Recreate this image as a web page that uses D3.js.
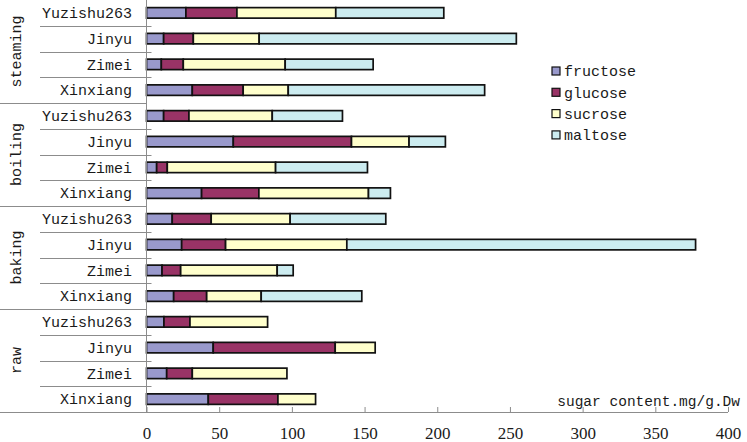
<!DOCTYPE html>
<html><head><meta charset="utf-8">
<script src="https://cdn.jsdelivr.net/npm/d3@7/dist/d3.min.js"></script>
<style>
html,body{margin:0;padding:0;background:#fff;}
svg{display:block;}
</style></head>
<body>
<svg id="chart" width="747" height="442"></svg>
<script>
// ---- data (rows listed top to bottom) ----
const methods = ["steaming", "boiling", "baking", "raw"];
const varieties = ["Yuzishu263", "Jinyu", "Zimei", "Xinxiang"];
const sugars = ["fructose", "glucose", "sucrose", "maltose"];
const fructose = [27.1, 11.8, 10.2, 31.5, 11.8, 59.7, 7.0, 37.9, 17.7, 24.2, 10.7, 18.7, 12.0, 45.9, 13.9, 42.5];
const glucose  = [35.1, 20.4, 15.1, 35.0, 17.4, 81.3, 7.3, 39.4, 26.8, 30.2, 12.8, 22.7, 17.9, 83.9, 17.6, 47.9];
const sucrose  = [68.0, 45.3, 70.1, 31.0, 57.3, 39.6, 74.5, 75.4, 54.3, 83.4, 66.4, 37.5, 53.4, 27.5, 65.1, 25.9];
const maltose  = [74.3, 176.9, 60.5, 135.1, 48.3, 25.0, 63.2, 15.1, 65.8, 239.9, 11.0, 69.2, 0, 0, 0, 0];
const xTicks = [0, 50, 100, 150, 200, 250, 300, 350, 400];
const axisTitle = "sugar content.mg/g.Dw";
const colors = ["#9999CC", "#993366", "#FFFFCC", "#CCECF0"];

(function () {
// ---- build table ----
const rows = [];
methods.forEach((m, gi) => varieties.forEach((v, vi) => {
  const i = gi * varieties.length + vi;
  rows.push({id: i, method: m, variety: v,
    fructose: fructose[i], glucose: glucose[i], sucrose: sucrose[i], maltose: maltose[i]});
}));

const svg = d3.select("#chart");
const pLeft = 146.5, pRight = 728, pTop = 0, pBottom = 412;
const x = d3.scaleLinear().domain([0, 400]).range([pLeft, pRight]);
const y = d3.scaleBand().domain(rows.map(d => d.id)).range([pTop, pBottom]).padding(0);
const color = d3.scaleOrdinal().domain(sugars).range(colors);
const lineCol = "#8c8c8c";
const txtCol = "#1a1a1a";
const monoFont = "'Liberation Mono', 'DejaVu Sans Mono', monospace";
const serifFont = "'Liberation Serif', 'DejaVu Serif', serif";

const series = d3.stack().keys(sugars)(rows);

const barH = 10.5;
const g = svg.append("g");
series.forEach(s => {
  g.append("g").selectAll("rect").data(s.filter(d => d[1] - d[0] > 0)).join("rect")
    .attr("x", d => x(d[0]))
    .attr("y", d => y(d.data.id) + (y.bandwidth() - barH) / 2)
    .attr("width", d => x(d[1]) - x(d[0]))
    .attr("height", barH)
    .attr("fill", color(s.key))
    .attr("stroke", "#111")
    .attr("stroke-width", 1.7);
});

// ---- x axis ----
const xAxis = d3.axisBottom(x).tickValues(xTicks).tickSizeInner(-5).tickSizeOuter(0).tickPadding(15);
const xa = svg.append("g").attr("transform", `translate(0,${pBottom})`).call(xAxis);
xa.select(".domain").remove();
xa.selectAll(".tick line").attr("stroke", lineCol);
xa.selectAll(".tick text").attr("font-family", serifFont).attr("font-size", 17).attr("fill", txtCol);
svg.append("line").attr("x1", 0).attr("x2", pRight).attr("y1", pBottom + 0.5).attr("y2", pBottom + 0.5)
  .attr("stroke", lineCol).attr("stroke-width", 1);

// ---- y axis line ----
svg.append("line").attr("x1", pLeft).attr("x2", pLeft).attr("y1", pTop).attr("y2", pBottom)
  .attr("stroke", lineCol).attr("stroke-width", 1);

// category dividers (inside groups) and group dividers
rows.forEach((d, i) => {
  if (i === 0) return;
  const yy = Math.round(y(d.id)) + 0.5;
  const isGroup = i % varieties.length === 0;
  svg.append("line")
    .attr("x1", isGroup ? 0 : 40).attr("x2", isGroup ? pLeft : pLeft + 5)
    .attr("y1", yy).attr("y2", yy)
    .attr("stroke", lineCol).attr("stroke-width", 1);
});

// category labels
svg.append("g").selectAll("text").data(rows).join("text")
  .attr("x", 132)
  .attr("y", d => y(d.id) + y.bandwidth() / 2)
  .attr("dy", "0.35em")
  .attr("text-anchor", "end")
  .attr("font-family", monoFont).attr("font-size", 15).attr("fill", txtCol)
  .text(d => d.variety);

// group labels (rotated)
const gh = (pBottom - pTop) / methods.length;
svg.append("g").selectAll("text").data(methods).join("text")
  .attr("transform", (d, i) => `translate(16,${pTop + gh * i + gh / 2}) rotate(-90)`)
  .attr("dy", "0.35em")
  .attr("text-anchor", "middle")
  .attr("font-family", monoFont).attr("font-size", 15).attr("fill", txtCol)
  .text(d => d);

// legend
const lg = svg.append("g").attr("transform", "translate(552,71)");
sugars.forEach((s, i) => {
  const row = lg.append("g").attr("transform", `translate(0,${i * 21.3})`);
  row.append("rect").attr("x", 0).attr("y", -4).attr("width", 8).attr("height", 8)
    .attr("fill", color(s)).attr("stroke", "#111").attr("stroke-width", 1.2);
  row.append("text").attr("x", 12).attr("y", 0).attr("dy", "0.35em")
    .attr("font-family", monoFont).attr("font-size", 15).attr("fill", txtCol).text(s);
});

// axis title
svg.append("text").attr("x", 740).attr("y", 401).attr("dy", "0.35em")
  .attr("text-anchor", "end")
  .attr("font-family", monoFont).attr("font-size", 14.5).attr("fill", txtCol)
  .text(axisTitle);
})();
</script>
</body></html>
